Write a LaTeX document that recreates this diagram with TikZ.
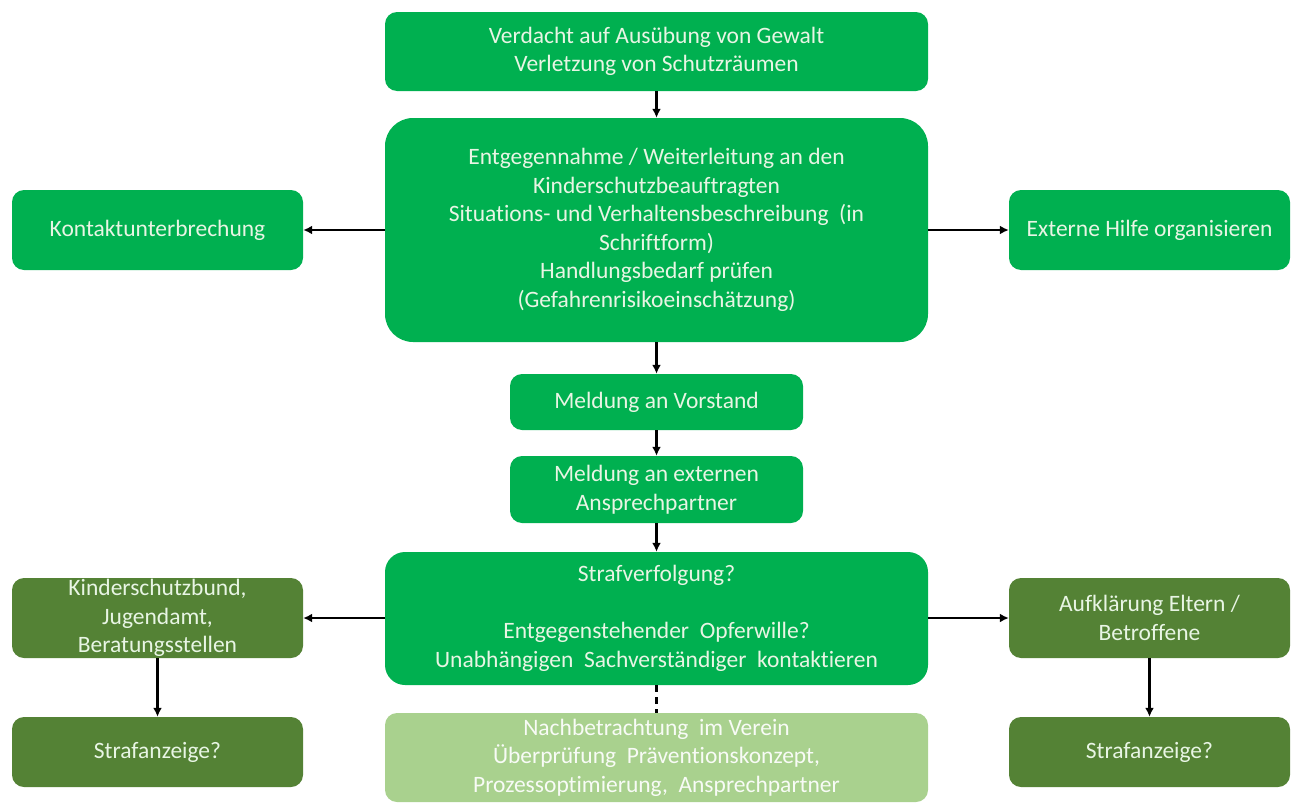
\documentclass[tikz,border=0pt]{standalone}
\usepackage{fontspec}
\setmainfont{Carlito}[Ligatures={NoCommon}]
\usetikzlibrary{arrows.meta}
\definecolor{bgreen}{RGB}{0,176,80}
\definecolor{dgreen}{RGB}{84,130,53}
\definecolor{lgreen}{RGB}{169,209,142}
\definecolor{txt}{RGB}{232,245,228}
\tikzset{
  box/.style={rounded corners=12pt, fill=bgreen, text=txt, align=center, inner sep=0pt,
    font=\fontsize{23.5}{28.5}\selectfont},
  darkbox/.style={box, fill=dgreen},
  lightbox/.style={box, fill=lgreen, text=white!92!lgreen},
  arr/.style={line width=2.4pt, -{Latex[length=9pt,width=9pt]}},
  dashline/.style={line width=3pt, dash pattern=on 7pt off 5pt},
}
\begin{document}
\begin{tikzpicture}[x=1pt,y=-1pt]
\useasboundingbox (0,0) rectangle (1302,803);
\node[box, minimum width=543pt, minimum height=79pt] (top) at (656.5,51.5)
  {Verdacht auf Ausübung von Gewalt\\Verletzung von Schutzräumen};
\node[box, rounded corners=28pt, minimum width=543pt, minimum height=224pt] (main) at (656.5,230)
  {Entgegennahme / Weiterleitung an den\\Kinderschutzbeauftragten\\Situations- und Verhaltensbeschreibung~ (in\\Schriftform)\\Handlungsbedarf prüfen\\(Gefahrenrisikoeinschätzung)};
\node[box, minimum width=291pt, minimum height=80pt] (kontakt) at (157.5,230) {Kontaktunterbrechung};
\node[box, minimum width=281pt, minimum height=80pt] (extern) at (1149.5,230) {Externe Hilfe organisieren};
\node[box, minimum width=293pt, minimum height=56pt] (vorstand) at (656.5,402) {Meldung an Vorstand};
\node[box, minimum width=293pt, minimum height=67pt] (externen) at (656.5,489.5) {Meldung an externen\\Ansprechpartner};
\node[box, rounded corners=20pt, minimum width=543pt, minimum height=133pt] (straf) at (656.5,618.5)
  {Strafverfolgung?\\[28.5pt]Entgegenstehender~ Opferwille?\\Unabhängigen~ Sachverständiger~ kontaktieren};
\node[darkbox, minimum width=291pt, minimum height=80pt] (kinder) at (157.5,618)
  {Kinderschutzbund,\\Jugendamt,\\Beratungsstellen};
\node[darkbox, minimum width=291pt, minimum height=70pt] (sa1) at (157.5,752) {Strafanzeige?};
\node[darkbox, minimum width=281pt, minimum height=80pt] (aufk) at (1149.5,618) {Aufklärung Eltern /\\Betroffene};
\node[darkbox, minimum width=281pt, minimum height=70pt] (sa2) at (1149.5,752) {Strafanzeige?};
\node[lightbox, minimum width=543pt, minimum height=89pt] (nach) at (656.5,757.5)
  {Nachbetrachtung~ im Verein\\Überprüfung~ Präventionskonzept,\\Prozessoptimierung,~ Ansprechpartner};
\draw[arr] (top) -- (main);
\draw[arr] (main) -- (vorstand);
\draw[arr] (vorstand) -- (externen);
\draw[arr] (externen) -- (straf);
\draw[arr] (main.west) -- (kontakt.east);
\draw[arr] (main.east) -- (extern.west);
\draw[arr] (straf.west |- kinder.east) -- (kinder.east);
\draw[arr] (straf.east |- aufk.east) -- (aufk.west);
\draw[arr] (kinder) -- (sa1);
\draw[arr] (aufk) -- (sa2);
\draw[dashline] (straf) -- (nach);
\end{tikzpicture}
\end{document}
